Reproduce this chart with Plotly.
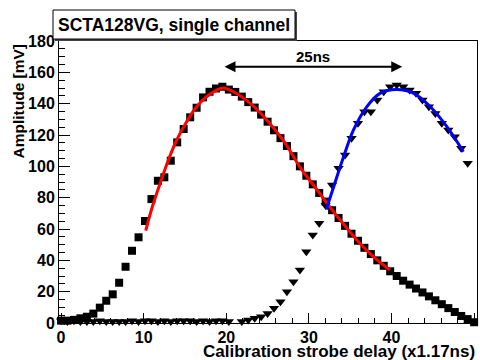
import plotly.graph_objects as go

# ---- data ----
sq_x = [0.00, 0.78, 1.56, 2.34, 3.13, 3.91, 4.69, 5.47, 6.25, 7.03, 7.81, 8.59, 9.38,
        10.16, 10.94, 11.72, 12.50, 13.28, 14.06, 14.84, 15.63, 16.41, 17.19, 17.97,
        18.75, 19.53, 20.31, 21.09, 21.88, 22.66, 23.44, 24.22, 25.00, 25.78, 26.56,
        27.34, 28.13, 28.91, 29.69, 30.47, 31.25, 32.03, 32.81, 33.59, 34.38, 35.16,
        35.94, 36.72, 37.50, 38.28, 39.06, 39.84, 40.63, 41.41, 42.19, 42.97, 43.75,
        44.53, 45.31, 46.09, 46.88, 47.66, 48.44, 49.22, 50.00]
sq_y = [1.5, 1.5, 2, 3, 4, 6, 9.8, 14.2, 18.3, 25.7,
        35.9, 46.1, 54.7, 65.1, 79.1, 90.8, 93, 103.6, 115.3, 123.8,
        131.3, 137.4, 144, 147.6, 149.7, 150.8,
        149, 147.5, 144.5, 141, 137.5, 133, 128.5, 123, 118, 113,
        106.5, 100, 94, 88.5, 83, 77.5, 72, 67, 62, 57,
        52.5, 48, 44, 40, 36.5, 33, 30, 27, 24.5, 22,
        19.5, 17, 14.5, 12, 9.5, 7, 4.5, 2.5, 0.5]

tri_x = [0.00, 0.78, 1.56, 2.34, 3.13, 3.91, 4.69, 5.47, 6.25, 7.03, 7.81, 8.59, 9.38,
         10.16, 10.94, 11.72, 12.50, 13.28, 14.06, 14.84, 15.63, 16.41, 17.19, 17.97,
         18.75, 19.53, 20.31, 21.88, 22.66, 23.44, 24.22, 25.00, 25.78, 26.56,
         27.34, 28.13, 28.91, 29.69, 30.47, 31.25, 32.03, 32.81, 33.59, 34.38, 35.16,
         35.94, 36.72, 37.50, 38.28, 39.06, 39.84, 40.63, 41.41, 42.19, 42.97, 43.75,
         44.53, 45.31, 46.09, 46.88, 47.66, 48.44, 49.22]
tri_y = [1.5, 1, 1.5, 1, 1, 1, 1.5, 1, 1, 1, 1, 1.5, 1, 1.5, 1.5, 1, 1.5, 1, 1.5, 1.5,
         1.5, 1, 1.5, 1, 1.5, 1.5, 1,
         1, 1.9, 3, 4, 6, 9.4, 13.6, 20, 26.4, 33.8,
         45.5, 56.2, 63.6, 75, 88.1, 98.7, 107.3, 117.9, 127.5, 134.9,
         134.9, 142.3, 147.6, 150.8, 151.9, 150.8, 148.7, 146.6, 142.3, 138,
         133.8, 127.5, 123.2, 118.9, 111.5, 102]

fit1_x = [10.25, 10.93, 11.99, 12.99, 14.0, 15.2, 16.4, 17.6, 18.85, 19.65, 20.86,
          22.9, 24.9, 27.0, 28.9, 31.0, 32.2, 33.8, 35.8, 37.8, 39.8]
fit1_y = [58.9, 72.1, 89.1, 104, 116.8, 128.5, 138, 144.4, 148.7, 150, 147.6,
          140.2, 129.6, 115.7, 99.7, 84.9, 76.4, 65.7, 53, 42.3, 33.8]

fit2_x = [32.1, 33.0, 34.2, 35.4, 37.0, 38.6, 40.6, 42.7, 44.7, 46.7, 48.7]
fit2_y = [72.5, 87, 106.1, 123.2, 138, 146.6, 149.1, 146.6, 138, 125.3, 109.3]

title_text = "SCTA128VG, single channel"
x_title = "Calibration strobe delay (x1.17ns)"
y_title = "Amplitude [mV]"
arrow_label = "25ns"
arrow_from, arrow_to, arrow_y = 19.6, 41.3, 163.6

FONT = "Liberation Sans, Arial, sans-serif"

fig = go.Figure()
fig.add_trace(go.Scatter(x=sq_x, y=sq_y, mode="markers", cliponaxis=False,
                         marker=dict(symbol="square", size=8, color="black",
                                     line=dict(width=0))))
fig.add_trace(go.Scatter(x=tri_x, y=tri_y, mode="markers", cliponaxis=False,
                         marker=dict(symbol="triangle-down", size=9, color="black",
                                     line=dict(width=0))))
fig.add_trace(go.Scatter(x=fit1_x, y=fit1_y, mode="lines",
                         line=dict(color="#ff0000", width=3, shape="spline")))
fig.add_trace(go.Scatter(x=fit2_x, y=fit2_y, mode="lines",
                         line=dict(color="#0000ff", width=3, shape="spline")))

L, R, T, B = 59, 3, 41, 37
W, H = 480, 360
pw, ph = W - L - R, H - T - B

def px(x):
    return (x - L) / pw

def py(y):
    return (H - B - y) / ph

axis_common = dict(showgrid=False, zeroline=False, showline=True, linecolor="black",
                   linewidth=1, mirror=True, ticks="inside", tickcolor="black",
                   tickfont=dict(family=FONT, size=16, color="black", weight="bold"))
fig.update_xaxes(range=[-0.25, 50.35], dtick=10, tick0=0, ticklen=10,
                 minor=dict(dtick=2, ticklen=5, ticks="inside", tickcolor="black"),
                 **axis_common)
fig.update_yaxes(range=[0, 180], dtick=20, tick0=0, ticklen=11,
                 minor=dict(dtick=5, ticklen=6, ticks="inside", tickcolor="black"),
                 **axis_common)

# title box with shadow
fig.add_shape(type="rect", xref="paper", yref="paper",
              x0=px(55), x1=px(297), y0=py(41), y1=py(12),
              fillcolor="#444444", line=dict(width=0), layer="above")
fig.add_shape(type="rect", xref="paper", yref="paper",
              x0=px(53), x1=px(295), y0=py(39), y1=py(10),
              fillcolor="white", line=dict(color="black", width=1), layer="above")

fig.update_layout(
    width=W, height=H, showlegend=False,
    margin=dict(l=L, r=R, t=T, b=B),
    paper_bgcolor="white", plot_bgcolor="white",
    annotations=[
        dict(text=title_text, xref="paper", yref="paper", x=px(174), y=py(25),
             showarrow=False, xanchor="center", yanchor="middle",
             font=dict(family=FONT, size=17.5, color="black", weight="bold")),
        dict(text=x_title, xref="paper", yref="paper", x=px(477), y=py(351),
             showarrow=False, xanchor="right", yanchor="middle",
             font=dict(family=FONT, size=17, color="black", weight="bold")),
        dict(text=y_title, xref="paper", yref="paper", x=px(18), y=py(42),
             showarrow=False, xanchor="center", yanchor="top", textangle=-90,
             font=dict(family=FONT, size=15.5, color="black", weight="bold")),
        dict(text="", x=arrow_to, y=arrow_y, ax=arrow_from, ay=arrow_y,
             xref="x", yref="y", axref="x", ayref="y", showarrow=True,
             arrowside="end+start", arrowhead=2, startarrowhead=2,
             arrowsize=1.1, startarrowsize=1.1, arrowwidth=2, arrowcolor="black"),
        dict(text=arrow_label, x=(arrow_from + arrow_to) / 2, y=170, xref="x", yref="y",
             showarrow=False, xanchor="center", yanchor="middle",
             font=dict(family=FONT, size=15, color="black", weight="bold")),
    ],
)

fig.write_html("out.html", config={"displayModeBar": False},
               post_script="document.body.style.margin='0';")
